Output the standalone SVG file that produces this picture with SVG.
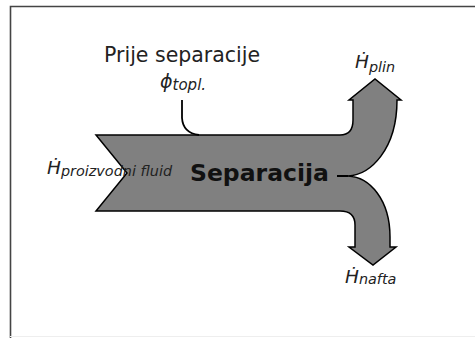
<svg xmlns="http://www.w3.org/2000/svg" width="475" height="338" viewBox="0 0 475 338">
<style>
.t{font-family:"DejaVu Sans",sans-serif;fill:#222}
.b{fill:#111;font-weight:bold}
.i{font-style:italic}
.h{font-size:18.5px}
.s{font-size:14.4px}
</style>
<rect width="475" height="338" fill="#fff"/>
<g id="frame" stroke="#444" stroke-width="1.6" fill="none">
<path d="M10.5,338 V6.5 H475"/>
<line x1="10" y1="336.5" x2="475" y2="336.5" stroke="#eee" stroke-width="1"/>
</g>
<g id="separacija">
<path d="M96,135 L340,135 Q353,135 353,120 L353,100 L349,100 L375,79 L401,100 L397,100 C397,150 370,175 348,176 C370,177 390,200 390,237 L390,247 L396,247 L373,265 L349,247 L355,247 L355,225 Q355,211 340,211 L96,211 L127,173 Z" fill="#808080" stroke="#000" stroke-width="1.5" stroke-linejoin="miter"/>
<line x1="337" y1="176" x2="348" y2="176" stroke="#000" stroke-width="2"/>
<text class="t b" x="190" y="181" font-size="23.5">Separacija</text>
</g>
<g id="connectors">
<path d="M182,100 L182,118 Q183,133 199,135" fill="none" stroke="#000" stroke-width="1.8"/>
</g>
<g id="heat">
<text class="t" x="104" y="62" font-size="20.5">Prije separacije</text>
<text class="t i" x="160" y="88" font-size="19">ϕ<tspan font-size="15" dy="2">topl.</tspan></text>
</g>
<g id="inflow">
<text class="t i" x="47" y="174"><tspan class="h">Ḣ</tspan><tspan class="s" dy="2">proizvodni fluid</tspan></text>
</g>
<g id="plin">
<text class="t i" x="355" y="68"><tspan class="h">Ḣ</tspan><tspan class="s" dy="4">plin</tspan></text>
</g>
<g id="nafta">
<text class="t i" x="345" y="283"><tspan class="h">Ḣ</tspan><tspan class="s" dy="1">nafta</tspan></text>
</g>
</svg>
